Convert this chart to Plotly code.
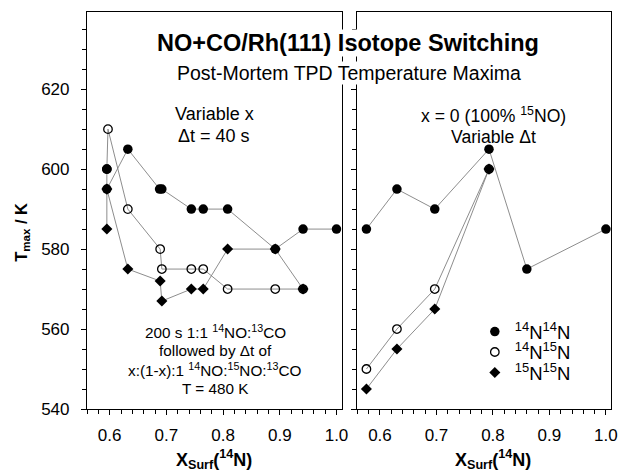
import plotly.graph_objects as go

# ---- Left panel: variable x, dt = 40 s ----
left_x_nn14 = [0.595, 0.595, 0.632, 0.688, 0.692, 0.744, 0.765, 0.808, 0.892, 0.941, 1.0]
left_t_nn14 = [600, 595, 605, 595, 595, 590, 590, 590, 580, 585, 585]

left_x_nn1415 = [0.595, 0.597, 0.632, 0.689, 0.692, 0.744, 0.765, 0.808, 0.892, 0.941]
left_t_nn1415 = [600, 610, 590, 580, 575, 575, 575, 570, 570, 570]

left_x_nn15 = [0.595, 0.595, 0.632, 0.689, 0.692, 0.744, 0.765, 0.808, 0.892, 0.941]
left_t_nn15 = [585, 595, 575, 572, 567, 570, 570, 580, 580, 570]

# ---- Right panel: x = 0, variable dt ----
right_x_nn14 = [0.576, 0.630, 0.697, 0.793, 0.860, 1.0]
right_t_nn14 = [585, 595, 590, 605, 575, 585]

right_x_nn1415 = [0.576, 0.630, 0.697, 0.793]
right_t_nn1415 = [550, 560, 570, 600]

right_x_nn15 = [0.576, 0.630, 0.697, 0.793]
right_t_nn15 = [545, 555, 565, 600]

legend_names = ["<sup>14</sup>N<sup>14</sup>N",
                "<sup>14</sup>N<sup>15</sup>N",
                "<sup>15</sup>N<sup>15</sup>N"]

x_ticks = [0.6, 0.7, 0.8, 0.9, 1.0]
y_ticks = [540, 560, 580, 600, 620]

FONT = "Arial, Liberation Sans, sans-serif"
W, H = 628, 471
L, R, T, B = 87, 10, 12, 62
PW, PH = W - L - R, H - T - B


def fx(p):
    return (p - L) / PW


def fy(p):
    return (H - B - p) / PH


LINE = dict(color="#808080", width=0.9)
styles = [
    dict(symbol="circle", size=9.5, color="black"),
    dict(symbol="circle-open", size=8.5, color="black", line=dict(width=1.3)),
    dict(symbol="diamond", size=8.5, color="black"),
]
legend_ids = ["legend", "legend2", "legend3"]
legend_rows = [313, 333.5, 354]

fig = go.Figure()

panels = [
    ("x", "y", [(left_x_nn15, left_t_nn15, 2), (left_x_nn1415, left_t_nn1415, 1),
                (left_x_nn14, left_t_nn14, 0)]),
    ("x2", "y2", [(right_x_nn15, right_t_nn15, 2), (right_x_nn1415, right_t_nn1415, 1),
                  (right_x_nn14, right_t_nn14, 0)]),
]

for xa, ya, series in panels:
    # connecting lines first, markers on top
    for xs, ts, k in series:
        fig.add_trace(go.Scatter(x=xs, y=ts, xaxis=xa, yaxis=ya, mode="lines",
                                 line=LINE, showlegend=False, hoverinfo="skip"))
    for xs, ts, k in series:
        fig.add_trace(go.Scatter(x=xs, y=ts, xaxis=xa, yaxis=ya, mode="markers",
                                 marker=styles[k], name=legend_names[k],
                                 legend=legend_ids[k], showlegend=(xa == "x2")))

axis_common = dict(range=[0.56, 1.009], tickvals=x_ticks, ticktext=[f"{v:.1f}" for v in x_ticks],
                   ticks="outside", ticklen=5, tickwidth=1, tickcolor="black",
                   ticklabelstandoff=5,
                   showline=True, linecolor="black", linewidth=1.2, mirror=True,
                   showgrid=False, zeroline=False,
                   tickfont=dict(family=FONT, size=17, color="black"),
                   minor=dict(dtick=0.02, tick0=0.56, ticks="outside", ticklen=4,
                              tickcolor="black", showgrid=False))
yaxis_common = dict(range=[540, 639.3], tickvals=y_ticks, ticks="outside", ticklen=5,
                    tickwidth=1, tickcolor="black", showline=True, linecolor="black",
                    ticklabelstandoff=8,
                    linewidth=1.2, mirror=True, showgrid=False, zeroline=False,
                    tickfont=dict(family=FONT, size=17, color="black"),
                    minor=dict(dtick=5, tick0=540, ticks="outside", ticklen=4,
                               tickcolor="black", showgrid=False))

legend_common = dict(xanchor="left", yanchor="top",
                     font=dict(family=FONT, size=18.5, color="black"),
                     bgcolor="rgba(0,0,0,0)", itemwidth=30)

fig.update_layout(
    width=W, height=H,
    margin=dict(l=L, r=R, t=T, b=B),
    paper_bgcolor="white", plot_bgcolor="white",
    font=dict(family=FONT, color="black"),
    xaxis=dict(domain=[0, fx(345)], anchor="y", **axis_common),
    xaxis2=dict(domain=[fx(361), 1], anchor="y2", **axis_common),
    yaxis=dict(domain=[0, 1], anchor="x", **yaxis_common),
    yaxis2=dict(domain=[0, 1], anchor="x2", showticklabels=False, **yaxis_common),
    legend=dict(x=fx(480), y=fy(legend_rows[0]), **legend_common),
    legend2=dict(x=fx(480), y=fy(legend_rows[1]), **legend_common),
    legend3=dict(x=fx(480), y=fy(legend_rows[2]), **legend_common),
    showlegend=True,
)


def label(text, x, y, size, bold=False, angle=0, bg=None):
    if bold:
        text = f"<b>{text}</b>"
    fig.add_annotation(text=text, x=fx(x), y=fy(y), xref="paper", yref="paper",
                       showarrow=False, xanchor="center", yanchor="middle",
                       textangle=angle, bgcolor=bg, borderpad=0,
                       font=dict(family=FONT, size=size, color="black"))


label("NO+CO/Rh(111) Isotope Switching", 351, 43, 23.5, bold=True, bg="white")
label("Post-Mortem TPD Temperature Maxima", 352, 73, 19.5, bg="white")

label("Variable x", 216, 114, 18)
label("Δt = 40 s", 216, 136, 18)

label("200 s 1:1 <sup>14</sup>NO:<sup>13</sup>CO", 217, 331, 15.3)
label("followed by Δt of", 217, 350, 15.3)
label("x:(1-x):1 <sup>14</sup>NO:<sup>15</sup>NO:<sup>13</sup>CO", 217, 369, 15.3)
label("T = 480 K", 217, 388, 15.3)

label("x = 0 (100% <sup>15</sup>NO)", 499, 115, 17.6)
label("Variable Δt", 499, 137, 17.6)

label("T<sub>max</sub> / K", 21, 232, 16.5, bold=True, angle=-90)
label("X<sub>Surf</sub>(<sup>14</sup>N)", 216, 459, 18, bold=True)
label("X<sub>Surf</sub>(<sup>14</sup>N)", 498, 459, 18, bold=True)

fig.write_html("out.html")
